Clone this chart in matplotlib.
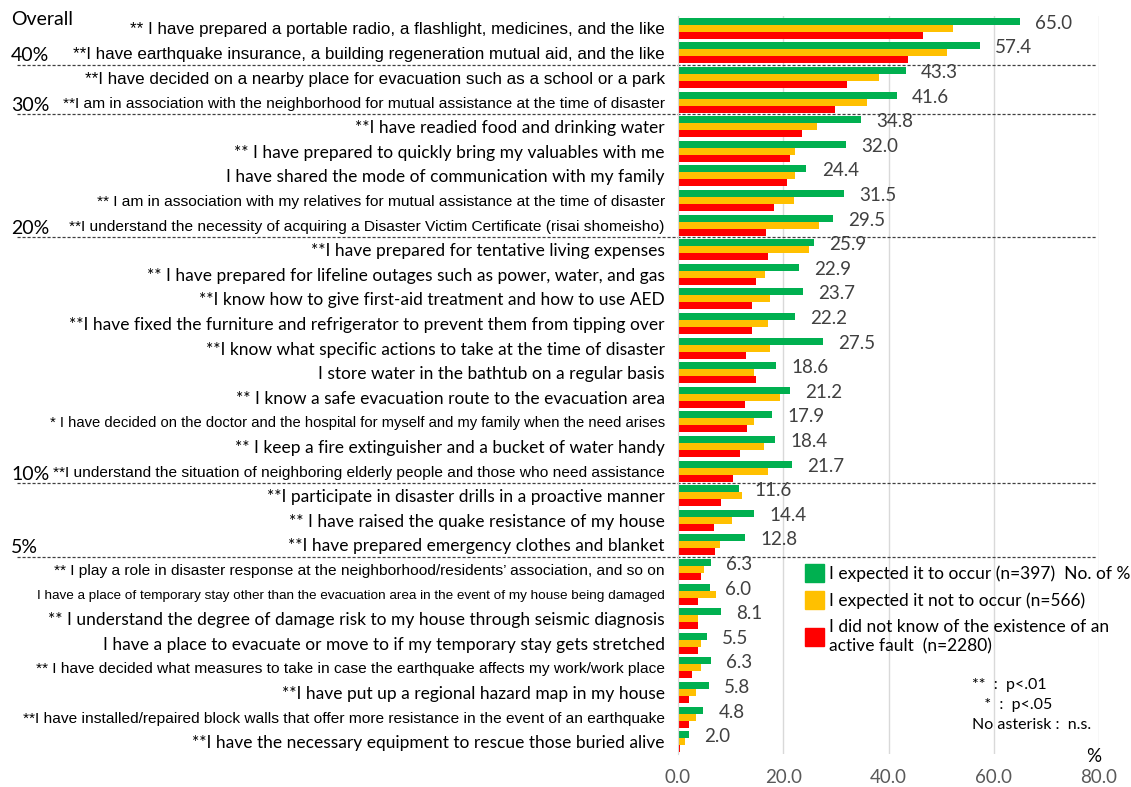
import matplotlib
matplotlib.use('Agg')
import matplotlib.pyplot as plt
import matplotlib.transforms as mtransforms
from matplotlib import font_manager
from matplotlib.patches import Patch
import numpy as np

# items, top to bottom
items = [
    "** I have prepared a portable radio, a flashlight, medicines, and the like",
    "**I have earthquake insurance, a building regeneration mutual aid, and the like",
    "**I have decided on a nearby place for evacuation such as a school or a park",
    "**I am in association with the neighborhood for mutual assistance at the time of disaster",
    "**I have readied food and drinking water",
    "** I have prepared to quickly bring my valuables with me",
    "I have shared the mode of communication with my family",
    "** I am in association with my relatives for mutual assistance at the time of disaster",
    "**I understand the necessity of acquiring a Disaster Victim Certificate (risai shomeisho)",
    "**I have prepared for tentative living expenses",
    "** I have prepared for lifeline outages such as power, water, and gas",
    "**I know how to give first-aid treatment and how to use AED",
    "**I have fixed the furniture and refrigerator to prevent them from tipping over",
    "**I know what specific actions to take at the time of disaster",
    "I store water in the bathtub on a regular basis",
    "** I know a safe evacuation route to the evacuation area",
    "* I have decided on the doctor and the hospital for myself and my family when the need arises",
    "** I keep a fire extinguisher and a bucket of water handy",
    "**I understand the situation of neighboring elderly people and those who need assistance",
    "**I participate in disaster drills in a proactive manner",
    "** I have raised the quake resistance of my house",
    "**I have prepared emergency clothes and blanket",
    "** I play a role in disaster response at the neighborhood/residents\u2019 association, and so on",
    "I have a place of temporary stay other than the evacuation area in the event of my house being damaged",
    "** I understand the degree of damage risk to my house through seismic diagnosis",
    "I have a place to evacuate or move to if my temporary stay gets stretched",
    "** I have decided what measures to take in case the earthquake affects my work/work place",
    "**I have put up a regional hazard map in my house",
    "**I have installed/repaired block walls that offer more resistance in the event of an earthquake",
    "**I have the necessary equipment to rescue those buried alive",
]

expected = [65.0, 57.4, 43.3, 41.6, 34.8, 32.0, 24.4, 31.5, 29.5, 25.9,
            22.9, 23.7, 22.2, 27.5, 18.6, 21.2, 17.9, 18.4, 21.7, 11.6,
            14.4, 12.8, 6.3, 6.0, 8.1, 5.5, 6.3, 5.8, 4.8, 2.0]
not_expected = [52.3, 51.2, 38.2, 35.9, 26.5, 22.3, 22.3, 22.1, 26.8, 24.9,
                16.6, 17.4, 17.1, 17.4, 14.4, 19.3, 14.4, 16.3, 17.1, 12.2,
                10.2, 8.0, 4.9, 7.2, 3.8, 4.3, 4.3, 3.5, 3.5, 1.3]
not_known = [46.5, 43.7, 32.1, 29.9, 23.5, 21.3, 20.8, 18.2, 16.8, 17.1,
             14.9, 14.0, 14.0, 13.0, 14.9, 12.7, 13.2, 11.8, 10.4, 8.2,
             6.8, 7.1, 4.3, 3.8, 3.8, 3.8, 2.7, 2.1, 2.1, 0.4]

series_names = ["I expected it to occur (n=397)  No. of %",
                "I expected it not to occur (n=566)",
                "I did not know of the existence of an\nactive fault  (n=2280)"]
colors = ['#00B050', '#FFC000', '#FF0000']

# overall-rate groups: tag, last row of the group
group_tags = ["40%", "30%", "20%", "10%", "5%"]
group_ends = [1, 3, 8, 18, 21]

xticks = [0, 20, 40, 60, 80]

# rows whose labels were typeset in a narrow face in the original
narrow_rows = [0, 1, 2, 3, 7, 8, 16, 18, 22, 23, 26, 28]
# size tweaks for some narrow rows (relative)
narrow_scale = {0: 1.1, 1: 1.1, 2: 1.1, 16: 0.955, 23: 0.87}

names = {f.name for f in font_manager.fontManager.ttflist}
has_narrow = 'Liberation Sans Narrow' in names
narrow_font = 'Liberation Sans Narrow' if has_narrow else 'Liberation Sans'
narrow_size = 13.3 if has_narrow else 11.15
main_font = 'Lato'

W, H = 1131, 787
fig = plt.figure(figsize=(W / 100, H / 100), dpi=100)
ax = fig.add_axes([678 / W, 1 - 754 / H, (1099 - 678) / W, (754 - 16) / H])

n = len(items)
y = np.arange(n)
bh = 0.285
ax.barh(y - bh, expected, height=bh, color=colors[0])
ax.barh(y, not_expected, height=bh, color=colors[1])
ax.barh(y + bh, not_known, height=bh, color=colors[2])

for i, v in enumerate(expected):
    ax.text(v + 2.9, i - 0.2, f"{v:.1f}", ha='left', va='center',
            fontsize=13.5, color='#404040', family=main_font)

ax.set_ylim(n - 0.5, -0.5)
ax.set_xlim(0, 80)
ax.set_xticks(xticks)
ax.set_xticklabels([f"{t:.1f}" for t in xticks], fontsize=13.5, color='#595959',
                   family=main_font)
ax.tick_params(axis='x', length=0, pad=11)
ax.set_yticks(y)
ax.set_yticklabels(items)
ax.tick_params(axis='y', length=0, pad=9.5)
for i, lab in enumerate(ax.get_yticklabels()):
    if i in narrow_rows:
        lab.set_fontfamily(narrow_font)
        lab.set_fontsize(narrow_size * narrow_scale.get(i, 1.0))
    else:
        lab.set_fontfamily(main_font)
        lab.set_fontsize(12.5)

ax.grid(axis='x', color='#D9D9D9', linewidth=1)
ax.set_axisbelow(True)
for s in ['top', 'right', 'bottom']:
    ax.spines[s].set_visible(False)
ax.spines['left'].set_color('#D9D9D9')

# dashed separators and group tags (x in figure coords, y in data coords)
tr = mtransforms.blended_transform_factory(fig.transFigure, ax.transData)
for tag, end in zip(group_tags, group_ends):
    ax.plot([17 / W, 1097 / W], [end + 0.5, end + 0.5], transform=tr,
            color='#404040', linestyle=(0, (2.5, 1.5)), linewidth=0.9,
            clip_on=False)
    ax.text(11 / W, end + 0.12, tag, transform=tr, ha='left', va='center',
            fontsize=14, family=main_font)
ax.text(11 / W, -0.35, "Overall", transform=tr, ha='left', va='center',
        fontsize=14, family=main_font)

handles = [Patch(color=c) for c in colors]
leg = ax.legend(handles, series_names, loc='upper left',
                bbox_to_anchor=(805 / W, 1 - 564 / H), bbox_transform=fig.transFigure,
                frameon=False, prop={'family': main_font, 'size': 12.5},
                handlelength=1.1, handleheight=1.2, handletextpad=0.3,
                labelspacing=0.55, borderpad=0, borderaxespad=0)
for t in leg.get_texts():
    t.set_linespacing(1.3)

note_kw = dict(fontsize=11.5, family=main_font, va='center')
fig.text(972 / W, 1 - 685 / H, "**  :  p<.01", **note_kw)
fig.text(972 / W, 1 - 705 / H, "   *  :  p<.05", **note_kw)
fig.text(972 / W, 1 - 725 / H, "No asterisk\u00a0:  n.s.", **note_kw)
fig.text(1094 / W, 1 - 757 / H, "%", fontsize=13.5, family=main_font, ha='center', va='center')

fig.savefig('out.png', dpi=100)
